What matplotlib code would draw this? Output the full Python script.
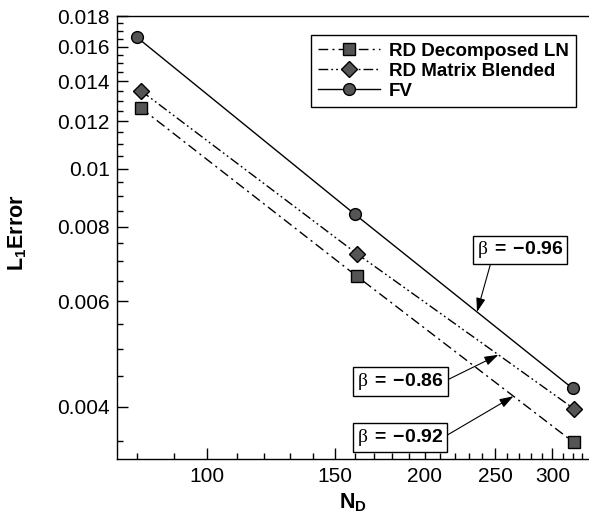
"""Convergence plot: L1 error vs N_D for RD and FV schemes (log-log)."""
import numpy as np
import matplotlib
matplotlib.use('Agg')
import matplotlib.pyplot as plt
from matplotlib.ticker import FixedLocator, FuncFormatter, NullFormatter

plt.rcParams['font.family'] = ['Liberation Sans', 'DejaVu Sans']
plt.rcParams['mathtext.fontset'] = 'custom'
plt.rcParams['mathtext.it'] = 'Liberation Serif'
plt.rcParams['mathtext.rm'] = 'Liberation Sans'
plt.rcParams['mathtext.bf'] = 'Liberation Sans:bold'

# data
n_fv = [80, 160, 320]
err_fv = [0.01658, 0.00839, 0.00429]
n_rd = [81, 161, 321]
err_blend = [0.0135, 0.00721, 0.00397]
err_decomp = [0.01263, 0.00661, 0.003486]

labels = ['RD Decomposed LN', 'RD Matrix Blended', 'FV']
slopes = ['-0.92', '-0.86', '-0.96']

x_major = [100, 150, 200, 250, 300]
y_major = [0.004, 0.006, 0.008, 0.01, 0.012, 0.014, 0.016, 0.018]


def on_line(xs, ys, x):
    # log-log interpolation along a series (between its last two points)
    lx = np.log10(xs[1:]); ly = np.log10(ys[1:])
    return 10 ** np.interp(np.log10(x), lx, ly)


fig = plt.figure(figsize=(5.89, 5.21), dpi=100)
ax = fig.add_axes([116.7 / 589, 62 / 521, 1 - 116.7 / 589, (459 - 16) / 521])

mk = dict(markersize=8.5, markerfacecolor='#555555', markeredgecolor='k',
          markeredgewidth=1.0, color='k', lw=1.0)
l1, = ax.plot(n_rd, err_decomp, marker='s', dashes=(7, 3, 1.5, 3), label=labels[0], **mk)
l2, = ax.plot(n_rd, err_blend, marker='D', dashes=(7, 2.2, 1.3, 2.2, 1.3, 2.2),
              label=labels[1], **mk)
l3, = ax.plot(n_fv, err_fv, marker='o', ls='-', label=labels[2], **mk)

ax.set_xscale('log')
ax.set_yscale('log')
ax.set_xlim(75, 337)
ax.set_ylim(0.00327, 0.018)

ax.xaxis.set_major_locator(FixedLocator(x_major))
ax.xaxis.set_minor_locator(FixedLocator([v for v in range(80, 340, 10) if v not in x_major]))
ax.yaxis.set_major_locator(FixedLocator(y_major))
ax.yaxis.set_minor_locator(FixedLocator(
    [v for v in np.arange(0.0035, 0.0181, 0.0005) if min(abs(v - m) for m in y_major) > 1e-6]))
fmt = FuncFormatter(lambda v, p: f'{v:g}')
ax.xaxis.set_major_formatter(fmt)
ax.yaxis.set_major_formatter(fmt)
ax.xaxis.set_minor_formatter(NullFormatter())
ax.yaxis.set_minor_formatter(NullFormatter())

ax.tick_params(which='both', direction='in', top=False, right=False, width=1.0,
               labelsize=15)
ax.tick_params(which='major', length=8)
ax.tick_params(which='minor', length=4.5)
ax.tick_params(axis='x', pad=6)
ax.tick_params(axis='y', pad=5)
for s in ['left', 'bottom', 'top']:
    ax.spines[s].set_linewidth(1.0)
ax.spines['right'].set_visible(False)

ax.set_xlabel(r'$\mathbf{N_D}$', fontsize=15.5, labelpad=4)
ax.set_ylabel(r'$\mathbf{L_1Error}$', fontsize=15.5)
ax.yaxis.set_label_coords(-0.186, 0.51)

leg = ax.legend(handles=[l1, l2, l3], loc='upper right',
                bbox_to_anchor=(576 / 589, 1 - 35 / 521), bbox_transform=fig.transFigure,
                borderaxespad=0, prop={'weight': 'bold', 'size': 13.5},
                handlelength=3.3, handletextpad=0.45, labelspacing=0.15,
                borderpad=0.4, fancybox=False, framealpha=1)
leg.get_frame().set_edgecolor('k')
leg.get_frame().set_linewidth(1.0)

box = dict(boxstyle='square,pad=0.2', fc='white', ec='k', lw=1.0)
arrow = dict(arrowstyle='-|>,head_length=0.6,head_width=0.2', color='k', lw=0.8,
             mutation_scale=14, shrinkA=0, shrinkB=0)


def beta_text(s):
    return r'$\beta\;\mathbf{=}\;\mathbf{' + s + '}$'


x_tip = 236
ax.annotate(beta_text(slopes[2]), xy=(x_tip, on_line(n_fv, err_fv, x_tip)),
            xytext=(520 / 589, 1 - 250 / 521), textcoords='figure fraction',
            ha='center', va='center', fontsize=14, bbox=box,
            arrowprops=dict(arrow, relpos=(0.17, 0)))
x_tip = 252.6
ax.annotate(beta_text(slopes[1]), xy=(x_tip, on_line(n_rd, err_blend, x_tip)),
            xytext=(400.5 / 589, 1 - 381.7 / 521), textcoords='figure fraction',
            ha='center', va='center', fontsize=14, bbox=box,
            arrowprops=dict(arrow, relpos=(1, 0.5)))
x_tip = 265
ax.annotate(beta_text(slopes[0]), xy=(x_tip, on_line(n_rd, err_decomp, x_tip)),
            xytext=(400 / 589, 1 - 437.5 / 521), textcoords='figure fraction',
            ha='center', va='center', fontsize=14, bbox=box,
            arrowprops=dict(arrow, relpos=(1, 0.5)))

fig.savefig('out.png', dpi=100)
